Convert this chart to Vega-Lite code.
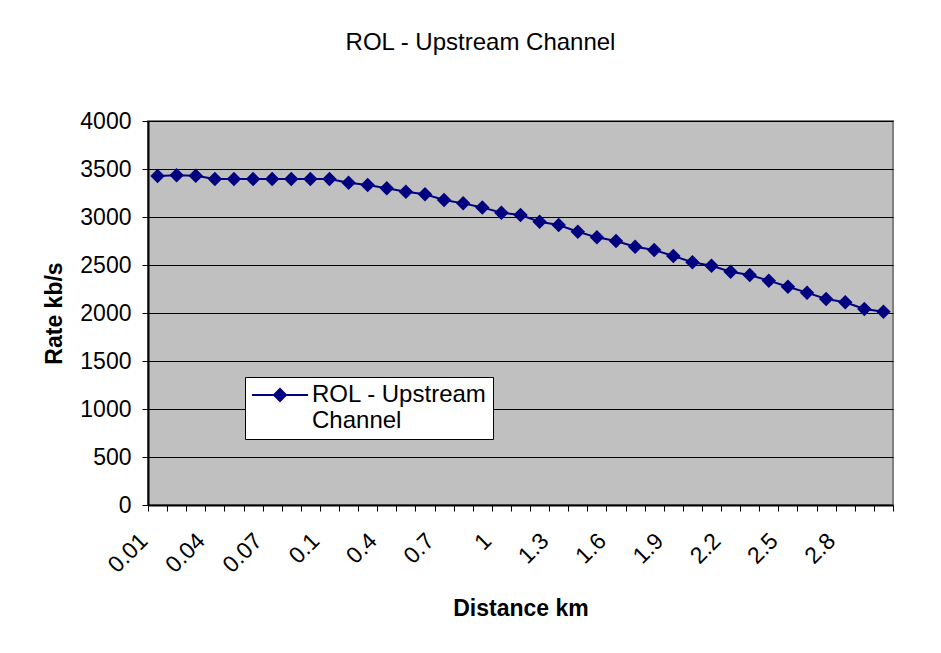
{
  "$schema": "https://vega.github.io/schema/vega-lite/v6.json",
  "width": 745,
  "height": 384,
  "autosize": {"type": "none"},
  "padding": {"left": 148, "top": 121, "right": 48, "bottom": 148},
  "background": "white",
  "title": {
    "text": "ROL - Upstream Channel",
    "font": "Liberation Sans",
    "fontSize": 24,
    "fontWeight": "normal",
    "color": "black",
    "anchor": "middle",
    "baseline": "alphabetic",
    "offset": 36,
    "dx": -40
  },
  "config": {
    "view": {"fill": "#C0C0C0", "stroke": "#808080", "strokeWidth": 2},
    "axis": {
      "labelFont": "Liberation Sans",
      "titleFont": "Liberation Sans",
      "labelFontSize": 23,
      "titleFontSize": 23,
      "titleFontWeight": "bold",
      "labelColor": "black",
      "titleColor": "black",
      "domainColor": "black",
      "domainWidth": 2,
      "tickColor": "black",
      "tickWidth": 1,
      "tickSize": 6
    },
    "legend": {
      "labelFont": "Liberation Sans",
      "labelFontSize": 24,
      "labelColor": "black"
    }
  },
  "data": {
    "values": [
      {"d": "0.01", "rate": 3427, "series": "ROL - Upstream Channel"},
      {"d": "0.02", "rate": 3434, "series": "ROL - Upstream Channel"},
      {"d": "0.03", "rate": 3430, "series": "ROL - Upstream Channel"},
      {"d": "0.04", "rate": 3395, "series": "ROL - Upstream Channel"},
      {"d": "0.05", "rate": 3395, "series": "ROL - Upstream Channel"},
      {"d": "0.06", "rate": 3395, "series": "ROL - Upstream Channel"},
      {"d": "0.07", "rate": 3395, "series": "ROL - Upstream Channel"},
      {"d": "0.08", "rate": 3395, "series": "ROL - Upstream Channel"},
      {"d": "0.09", "rate": 3395, "series": "ROL - Upstream Channel"},
      {"d": "0.1", "rate": 3395, "series": "ROL - Upstream Channel"},
      {"d": "0.2", "rate": 3357, "series": "ROL - Upstream Channel"},
      {"d": "0.3", "rate": 3333, "series": "ROL - Upstream Channel"},
      {"d": "0.4", "rate": 3299, "series": "ROL - Upstream Channel"},
      {"d": "0.5", "rate": 3264, "series": "ROL - Upstream Channel"},
      {"d": "0.6", "rate": 3236, "series": "ROL - Upstream Channel"},
      {"d": "0.7", "rate": 3177, "series": "ROL - Upstream Channel"},
      {"d": "0.8", "rate": 3142, "series": "ROL - Upstream Channel"},
      {"d": "0.9", "rate": 3100, "series": "ROL - Upstream Channel"},
      {"d": "1", "rate": 3045, "series": "ROL - Upstream Channel"},
      {"d": "1.1", "rate": 3021, "series": "ROL - Upstream Channel"},
      {"d": "1.2", "rate": 2951, "series": "ROL - Upstream Channel"},
      {"d": "1.3", "rate": 2917, "series": "ROL - Upstream Channel"},
      {"d": "1.4", "rate": 2847, "series": "ROL - Upstream Channel"},
      {"d": "1.5", "rate": 2788, "series": "ROL - Upstream Channel"},
      {"d": "1.6", "rate": 2750, "series": "ROL - Upstream Channel"},
      {"d": "1.7", "rate": 2691, "series": "ROL - Upstream Channel"},
      {"d": "1.8", "rate": 2656, "series": "ROL - Upstream Channel"},
      {"d": "1.9", "rate": 2594, "series": "ROL - Upstream Channel"},
      {"d": "2", "rate": 2528, "series": "ROL - Upstream Channel"},
      {"d": "2.1", "rate": 2493, "series": "ROL - Upstream Channel"},
      {"d": "2.2", "rate": 2430, "series": "ROL - Upstream Channel"},
      {"d": "2.3", "rate": 2396, "series": "ROL - Upstream Channel"},
      {"d": "2.4", "rate": 2337, "series": "ROL - Upstream Channel"},
      {"d": "2.5", "rate": 2274, "series": "ROL - Upstream Channel"},
      {"d": "2.6", "rate": 2212, "series": "ROL - Upstream Channel"},
      {"d": "2.7", "rate": 2146, "series": "ROL - Upstream Channel"},
      {"d": "2.8", "rate": 2111, "series": "ROL - Upstream Channel"},
      {"d": "2.9", "rate": 2042, "series": "ROL - Upstream Channel"},
      {"d": "3", "rate": 2014, "series": "ROL - Upstream Channel"}
    ]
  },
  "encoding": {
    "x": {
      "field": "d",
      "type": "ordinal",
      "sort": null,
      "scale": {"type": "band", "paddingInner": 0, "paddingOuter": 0},
      "axis": {
        "title": "Distance km",
        "titlePadding": 20,
        "tickBand": "extent",
        "labelAngle": -45,
        "labelAlign": "right",
        "labelBaseline": "middle",
        "labelPadding": 26,
        "labelOffset": -14,
        "labelOverlap": false,
        "labelExpr": "indexof(['0.01','0.04','0.07','0.1','0.4','0.7','1','1.3','1.6','1.9','2.2','2.5','2.8'], datum.label) >= 0 ? datum.label : ''",
        "grid": false
      }
    },
    "y": {
      "field": "rate",
      "type": "quantitative",
      "scale": {"domain": [0, 4000]},
      "axis": {
        "title": "Rate kb/s",
        "format": "d",
        "values": [0, 500, 1000, 1500, 2000, 2500, 3000, 3500, 4000],
        "grid": true,
        "gridColor": "black",
        "gridWidth": 1,
        "gridOpacity": 1,
        "labelPadding": 11,
        "titlePadding": 13
      }
    }
  },
  "layer": [
    {
      "mark": {"type": "line", "color": "#000080", "strokeWidth": 2},
      "encoding": {
        "color": {
          "field": "series",
          "type": "nominal",
          "scale": {"range": ["#000080"]},
          "legend": {
            "title": null,
            "orient": "none",
            "legendX": 97,
            "legendY": 256,
            "padding": 6,
            "fillColor": "white",
            "strokeColor": "black",
            "symbolType": "M-2.8,0L2.8,0M-0.6,0L0,-0.6L0.6,0L0,0.6Z",
            "symbolSize": 400,
            "symbolOffset": 17,
            "symbolStrokeWidth": 2,
            "symbolFillColor": "#000080",
            "symbolStrokeColor": "#000080",
            "labelOffset": 20,
            "labelLimit": 400,
            "labelBaseline": "middle",
            "labelLineHeight": 26,
            "labelExpr": "['ROL - Upstream', 'Channel']"
          }
        }
      }
    },
    {
      "mark": {"type": "point", "shape": "diamond", "filled": true, "color": "#000080", "size": 210, "opacity": 1}
    }
  ]
}
